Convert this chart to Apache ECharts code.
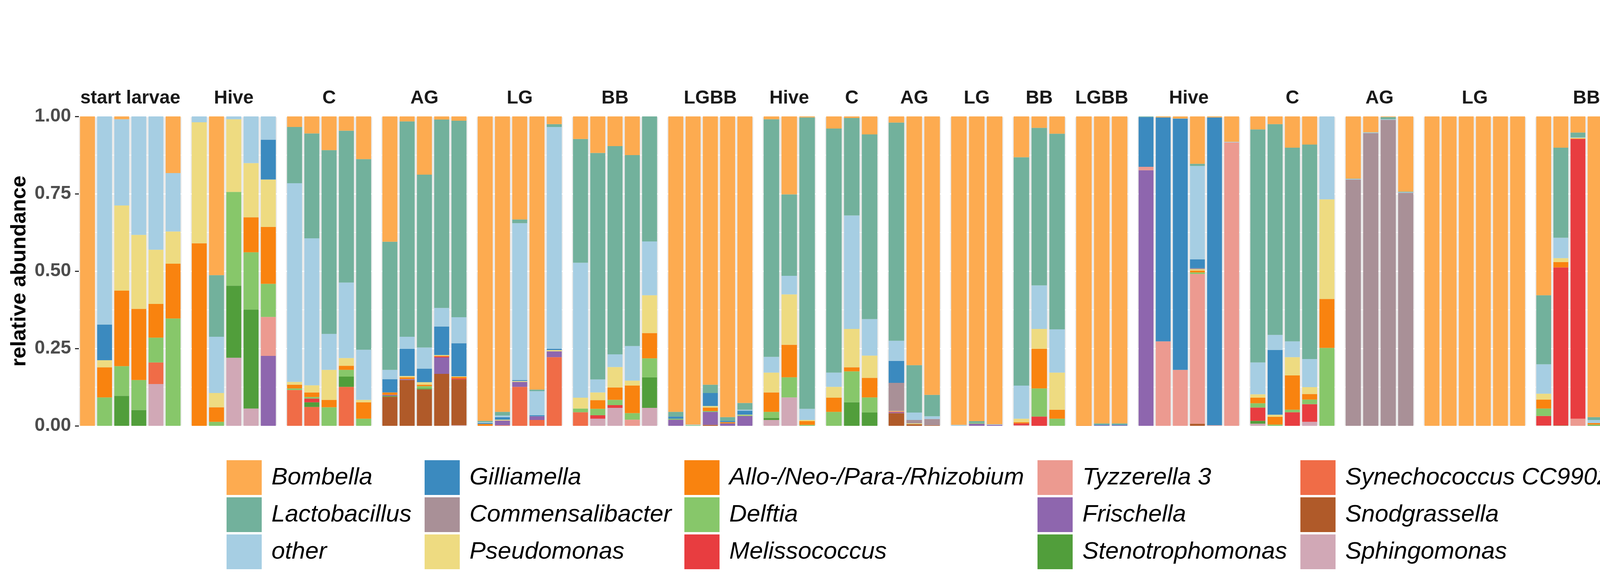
<!DOCTYPE html>
<html>
<head>
<meta charset="utf-8">
<title>relative abundance</title>
<script src="https://cdn.jsdelivr.net/npm/echarts@6/dist/echarts.min.js"></script>
<style>
  html, body { margin: 0; padding: 0; background: #ffffff; }
  #container { width: 4500px; height: 1500px; }
</style>
</head>
<body>
<div id="container"></div>
<script>
// facet strips, left to right
var facets = ['start larvae', 'Hive', 'C', 'AG', 'LG', 'BB', 'LGBB',
              'Hive', 'C', 'AG', 'LG', 'BB', 'LGBB',
              'Hive', 'C', 'AG', 'LG', 'BB', 'LGBB'];

// legend order (top of the stack first)
var genera = ['Bombella', 'Lactobacillus', 'other',
              'Gilliamella', 'Commensalibacter', 'Pseudomonas',
              'Allo-/Neo-/Para-/Rhizobium', 'Delftia', 'Melissococcus',
              'Tyzzerella 3', 'Frischella', 'Stenotrophomonas',
              'Synechococcus CC9902', 'Snodgrassella', 'Sphingomonas'];

// relative abundance per sample, one inner array per facet
var bombella = [
  [1, 0, 0.009, 0, 0, 0.183],
  [0, 0.513, 0, 0, 0],
  [0.034, 0.055, 0.109, 0.046, 0.138],
  [0.405, 0.016, 0.188, 0.010, 0.014],
  [0.984, 0.955, 0.333, 0.883, 0.025],
  [0.073, 0.118, 0.096, 0.125, 0],
  [0.955, 0.996, 0.867, 0.972, 0.926],
  [0.009, 0.252, 0.003],
  [0.039, 0.005, 0.058],
  [0.020, 0.804, 0.900],
  [0.997, 0.985, 0.995],
  [0.132, 0.037, 0.056],
  [0.998, 0.992, 0.992],
  [0, 0.003, 0.007, 0.153, 0.003, 0.082],
  [0.042, 0.025, 0.101, 0.091, 0],
  [0.201, 0.051, 0.002, 0.243],
  [1, 1, 1, 1, 1, 1],
  [0.578, 0.101, 0.052, 0.972, 0.944, 0.013],
  [1, 0.964, 1, 1, 0.998, 1]
];
var lactobacillus = [
  [0, 0, 0, 0, 0, 0],
  [0, 0.199, 0, 0, 0],
  [0.182, 0.339, 0.594, 0.491, 0.616],
  [0.414, 0.696, 0.559, 0.609, 0.635],
  [0.004, 0.012, 0.012, 0.005, 0.009],
  [0.400, 0.732, 0.673, 0.617, 0.404],
  [0.015, 0, 0.027, 0.012, 0.022],
  [0.768, 0.263, 0.942],
  [0.789, 0.315, 0.597],
  [0.705, 0.153, 0.069],
  [0, 0.006, 0],
  [0.738, 0.509, 0.632],
  [0, 0.004, 0.004],
  [0.002, 0, 0, 0.007, 0, 0],
  [0.753, 0.681, 0.626, 0.693, 0],
  [0.001, 0.001, 0.007, 0.002],
  [0, 0, 0, 0, 0, 0],
  [0.223, 0.291, 0.016, 0.009, 0.043, 0.701],
  [0, 0, 0, 0, 0.002, 0]
];
var other = [
  [0, 0.673, 0.279, 0.383, 0.431, 0.189],
  [0.019, 0.182, 0.009, 0.151, 0.075],
  [0.642, 0.475, 0.116, 0.244, 0.162],
  [0.030, 0.039, 0.068, 0.060, 0.084],
  [0.003, 0.005, 0.507, 0.078, 0.717],
  [0.436, 0.042, 0.041, 0.112, 0.174],
  [0, 0.002, 0, 0, 0.003],
  [0.051, 0.060, 0.036],
  [0.046, 0.367, 0.118],
  [0.065, 0.024, 0.009],
  [0.003, 0, 0.002],
  [0.107, 0.141, 0.140],
  [0, 0, 0],
  [0, 0, 0, 0.302, 0, 0.002],
  [0.103, 0.049, 0.051, 0.091, 0.268],
  [0.002, 0.002, 0.002, 0.002],
  [0, 0, 0, 0, 0, 0],
  [0.095, 0.066, 0.001, 0.010, 0.004, 0.108],
  [0, 0, 0, 0, 0, 0]
];
var gilliamella = [
  [0, 0.115, 0, 0, 0, 0],
  [0, 0, 0, 0, 0.129],
  [0, 0, 0, 0, 0],
  [0.043, 0.088, 0.044, 0.092, 0.107],
  [0.003, 0.008, 0.003, 0.003, 0.004],
  [0, 0, 0, 0, 0],
  [0.007, 0, 0.042, 0.004, 0.013],
  [0, 0, 0],
  [0, 0, 0],
  [0.071, 0, 0],
  [0, 0, 0],
  [0, 0, 0],
  [0, 0.002, 0.002],
  [0.161, 0.724, 0.812, 0.029, 0.995, 0],
  [0, 0.209, 0, 0, 0],
  [0, 0, 0, 0],
  [0, 0, 0, 0, 0, 0],
  [0, 0, 0, 0, 0, 0.002],
  [0, 0.002, 0, 0, 0, 0]
];
var commensalibacter = [
  [0, 0, 0, 0, 0, 0],
  [0, 0, 0, 0, 0],
  [0, 0, 0, 0, 0],
  [0, 0, 0, 0, 0],
  [0, 0, 0, 0, 0],
  [0, 0, 0, 0, 0],
  [0, 0, 0, 0, 0],
  [0, 0, 0],
  [0, 0, 0],
  [0.091, 0.011, 0.020],
  [0, 0, 0],
  [0, 0, 0],
  [0, 0, 0],
  [0, 0, 0, 0.003, 0, 0],
  [0, 0, 0, 0, 0],
  [0.796, 0.946, 0.989, 0.753],
  [0, 0, 0, 0, 0, 0],
  [0, 0, 0, 0, 0, 0],
  [0, 0, 0, 0, 0, 0]
];
var pseudomonas = [
  [0, 0.023, 0.275, 0.239, 0.175, 0.104],
  [0.391, 0.046, 0.235, 0.175, 0.153],
  [0.009, 0.023, 0.097, 0.025, 0.008],
  [0, 0.004, 0.008, 0.003, 0.002],
  [0, 0.003, 0.003, 0, 0.004],
  [0.035, 0.025, 0.066, 0.016, 0.122],
  [0, 0, 0.005, 0, 0.002],
  [0.064, 0.163, 0.004],
  [0.035, 0.124, 0.072],
  [0.002, 0.003, 0],
  [0, 0, 0],
  [0.011, 0.064, 0.120],
  [0, 0, 0],
  [0, 0, 0, 0.004, 0, 0],
  [0.011, 0.007, 0.059, 0.022, 0.322],
  [0, 0, 0, 0],
  [0, 0, 0, 0, 0, 0],
  [0.019, 0.013, 0.002, 0, 0.002, 0.052],
  [0, 0, 0, 0, 0, 0]
];
var rhizobium = [
  [0, 0.097, 0.244, 0.230, 0.109, 0.177],
  [0.590, 0.047, 0, 0.113, 0.184],
  [0.012, 0.015, 0.024, 0.013, 0.053],
  [0.008, 0.006, 0.005, 0.002, 0.005],
  [0.006, 0, 0, 0, 0],
  [0, 0.028, 0.040, 0.089, 0.082],
  [0, 0, 0.011, 0.004, 0],
  [0.063, 0.105, 0.012],
  [0.046, 0.013, 0.063],
  [0, 0, 0],
  [0, 0, 0],
  [0.004, 0.128, 0.029],
  [0.002, 0, 0],
  [0, 0, 0, 0.006, 0, 0],
  [0.018, 0.025, 0.111, 0.018, 0.158],
  [0, 0, 0, 0],
  [0, 0, 0, 0, 0, 0],
  [0.029, 0.017, 0.002, 0.005, 0.002, 0.048],
  [0, 0, 0, 0, 0, 0]
];
var delftia = [
  [0, 0.092, 0.096, 0.097, 0.080, 0.347],
  [0, 0.013, 0.303, 0.185, 0.107],
  [0.005, 0.005, 0.060, 0.022, 0.023],
  [0, 0, 0.007, 0, 0],
  [0, 0, 0, 0, 0],
  [0.012, 0.021, 0.017, 0.021, 0.061],
  [0.003, 0.002, 0.003, 0, 0.002],
  [0.019, 0.065, 0.003],
  [0.045, 0.100, 0.049],
  [0, 0, 0],
  [0, 0.002, 0],
  [0, 0.091, 0.023],
  [0, 0, 0],
  [0, 0, 0, 0.005, 0, 0],
  [0.014, 0.004, 0.008, 0.015, 0.252],
  [0, 0, 0, 0],
  [0, 0, 0, 0, 0, 0],
  [0.024, 0, 0, 0.002, 0, 0.006],
  [0, 0, 0, 0, 0, 0]
];
var melissococcus = [
  [0, 0, 0, 0, 0, 0],
  [0, 0, 0, 0, 0],
  [0, 0.012, 0, 0, 0],
  [0, 0, 0, 0.003, 0.003],
  [0, 0, 0, 0, 0],
  [0, 0.011, 0.009, 0, 0],
  [0, 0, 0, 0, 0],
  [0, 0, 0],
  [0, 0, 0],
  [0.002, 0, 0],
  [0, 0, 0],
  [0.006, 0.030, 0],
  [0, 0, 0],
  [0, 0, 0, 0, 0, 0],
  [0.043, 0, 0.044, 0.057, 0],
  [0, 0, 0, 0],
  [0, 0, 0, 0, 0, 0],
  [0.031, 0.511, 0.904, 0, 0.005, 0.050],
  [0, 0.034, 0, 0, 0, 0]
];
var tyzzerella = [
  [0, 0, 0, 0, 0, 0],
  [0, 0, 0, 0, 0.126],
  [0, 0, 0, 0, 0],
  [0, 0, 0, 0, 0],
  [0, 0, 0, 0, 0],
  [0, 0, 0, 0.020, 0],
  [0, 0, 0, 0, 0],
  [0, 0, 0],
  [0, 0, 0],
  [0, 0, 0],
  [0, 0, 0],
  [0, 0, 0],
  [0, 0, 0],
  [0.011, 0.273, 0.181, 0.484, 0.002, 0.916],
  [0, 0, 0, 0, 0],
  [0, 0, 0, 0],
  [0, 0, 0, 0, 0, 0],
  [0, 0, 0.023, 0, 0, 0],
  [0, 0, 0, 0, 0, 0]
];
var frischella = [
  [0, 0, 0, 0, 0, 0],
  [0, 0, 0, 0, 0.226],
  [0, 0, 0, 0, 0],
  [0.003, 0.003, 0, 0.053, 0],
  [0, 0.015, 0.016, 0.012, 0.019],
  [0, 0, 0, 0, 0],
  [0.020, 0, 0.042, 0.008, 0.032],
  [0, 0, 0],
  [0, 0, 0],
  [0.003, 0, 0],
  [0, 0.007, 0.003],
  [0, 0, 0],
  [0, 0.002, 0.002],
  [0.826, 0, 0, 0, 0, 0],
  [0, 0, 0, 0, 0],
  [0, 0, 0, 0],
  [0, 0, 0, 0, 0, 0],
  [0, 0, 0, 0, 0, 0],
  [0, 0, 0, 0, 0, 0]
];
var stenotrophomonas = [
  [0, 0, 0.097, 0.051, 0, 0],
  [0, 0, 0.233, 0.320, 0],
  [0, 0.015, 0, 0.033, 0],
  [0.003, 0, 0.003, 0, 0],
  [0, 0, 0, 0, 0],
  [0, 0, 0, 0, 0.099],
  [0, 0, 0, 0, 0],
  [0.007, 0, 0],
  [0, 0.076, 0.043],
  [0, 0, 0],
  [0, 0, 0],
  [0, 0, 0],
  [0, 0, 0],
  [0, 0, 0, 0, 0, 0],
  [0.009, 0, 0, 0, 0],
  [0, 0, 0, 0],
  [0, 0, 0, 0, 0, 0],
  [0, 0.001, 0, 0.002, 0, 0.015],
  [0, 0, 0, 0, 0, 0]
];
var synechococcus = [
  [0, 0, 0, 0, 0.070, 0],
  [0, 0, 0, 0, 0],
  [0.116, 0.061, 0, 0.126, 0],
  [0, 0, 0, 0, 0],
  [0, 0.002, 0.126, 0.019, 0.222],
  [0.044, 0, 0, 0, 0],
  [0, 0, 0, 0, 0],
  [0, 0, 0],
  [0, 0, 0],
  [0, 0, 0],
  [0, 0, 0],
  [0, 0, 0],
  [0, 0, 0],
  [0, 0, 0, 0, 0, 0],
  [0, 0, 0, 0, 0],
  [0, 0, 0, 0],
  [0, 0, 0, 0, 0, 0],
  [0, 0, 0, 0, 0, 0],
  [0, 0, 0, 0, 0, 0]
];
var snodgrassella = [
  [0, 0, 0, 0, 0, 0],
  [0, 0, 0, 0, 0],
  [0, 0, 0, 0, 0],
  [0.094, 0.148, 0.118, 0.168, 0.148],
  [0, 0, 0, 0, 0],
  [0, 0, 0, 0, 0],
  [0, 0, 0.003, 0, 0],
  [0, 0, 0],
  [0, 0, 0],
  [0.041, 0.005, 0.002],
  [0, 0, 0],
  [0, 0, 0],
  [0, 0, 0],
  [0, 0, 0, 0.007, 0, 0],
  [0, 0, 0, 0, 0],
  [0, 0, 0, 0],
  [0, 0, 0, 0, 0, 0],
  [0, 0, 0, 0, 0, 0],
  [0, 0, 0, 0, 0, 0]
];
var sphingomonas = [
  [0, 0, 0, 0, 0.135, 0],
  [0, 0, 0.220, 0.056, 0],
  [0, 0, 0, 0, 0],
  [0, 0, 0, 0, 0.002],
  [0, 0, 0, 0, 0],
  [0, 0.023, 0.058, 0, 0.058],
  [0, 0, 0, 0, 0],
  [0.019, 0.092, 0],
  [0, 0, 0],
  [0, 0, 0],
  [0, 0, 0],
  [0.002, 0, 0],
  [0, 0, 0],
  [0, 0, 0, 0, 0, 0],
  [0.007, 0, 0, 0.013, 0],
  [0, 0, 0, 0],
  [0, 0, 0, 0, 0, 0],
  [0.001, 0, 0, 0, 0, 0.005],
  [0, 0, 0, 0, 0, 0]
];

var values = [bombella, lactobacillus, other, gilliamella, commensalibacter, pseudomonas,
              rhizobium, delftia, melissococcus, tyzzerella, frischella, stenotrophomonas,
              synechococcus, snodgrassella, sphingomonas];

var palette = ['#FDAB50', '#72B19C', '#A6CEE3', '#3B8ABF', '#A99097', '#EEDB81',
               '#F9830F', '#87C76A', '#E83D40', '#EC9A90', '#8E66AE', '#519E3B',
               '#F06C47', '#B05A29', '#D1A8B6'];

var font = 'Liberation Sans';
var dom = document.getElementById('container');
var myChart = echarts.init(dom);

var unit = 42, pad = 5.5, gap = 23;
var left0 = 202, top0 = 298, plotH = 792;

var grids = [], xAxes = [], yAxes = [], titles = [], series = [];
var x = left0;

facets.forEach(function (name, f) {
    var n = bombella[f].length;
    var w = n * unit + 2 * pad;
    grids.push({
        left: x, top: top0, width: w, height: plotH,
        show: true, backgroundColor: '#EBEBEB', borderWidth: 0
    });
    var cats = [];
    for (var i = 0; i < n; i++) { cats.push(name + ' ' + (i + 1)); }
    xAxes.push({
        type: 'category', gridIndex: f, data: cats,
        axisLine: { show: false }, axisTick: { show: false },
        axisLabel: { show: false }, splitLine: { show: false }
    });
    var first = (f === 0);
    yAxes.push({
        type: 'value', gridIndex: f, min: 0, max: 1, interval: 0.25,
        name: first ? 'relative abundance' : '',
        nameLocation: 'middle', nameRotate: 90, nameGap: 125,
        nameTextStyle: { fontSize: 54, fontWeight: 'bold', color: '#000000', fontFamily: font },
        axisLine: { show: false },
        axisTick: { show: first, length: 10, lineStyle: { color: '#333333', width: 3 } },
        axisLabel: {
            show: first, margin: 20, fontSize: 48, fontWeight: 'bold',
            color: '#4D4D4D', fontFamily: font,
            formatter: function (v) { return v.toFixed(2); }
        },
        splitLine: { show: true, lineStyle: { color: '#FFFFFF', width: 3 } },
        minorTick: { show: false, splitNumber: 2 },
        minorSplitLine: { show: true, lineStyle: { color: '#FFFFFF', width: 1.5 } }
    });
    titles.push({
        text: name, left: x + w / 2, top: 228, textAlign: 'center', padding: 0,
        textStyle: { fontSize: 48, fontWeight: 'bold', color: '#1A1A1A', fontFamily: font }
    });
    // bottom of the stack is the last legend entry
    for (var g = genera.length - 1; g >= 0; g--) {
        series.push({
            type: 'bar', name: genera[g], xAxisIndex: f, yAxisIndex: f,
            stack: 'facet' + f, data: values[g][f],
            barCategoryGap: '13%',
            itemStyle: { color: palette[g] },
            emphasis: { disabled: true }
        });
    }
    x += w + gap;
});

var legendLeft = [575, 1082, 1747, 2651, 3324];
var legends = legendLeft.map(function (lx, c) {
    return {
        orient: 'vertical', left: lx, top: 1173,
        data: genera.slice(c * 3, c * 3 + 3),
        icon: 'rect', itemWidth: 90, itemHeight: 89, itemGap: 6,
        selectedMode: false,
        textStyle: { fontSize: 62, fontStyle: 'italic', color: '#000000', fontFamily: font, padding: [0, 0, 0, 20] }
    };
});

option = {
    backgroundColor: '#FFFFFF',
    animation: false,
    color: palette,
    title: titles,
    legend: legends,
    grid: grids,
    xAxis: xAxes,
    yAxis: yAxes,
    series: series
};
if (option && typeof option === 'object') {
    myChart.setOption(option, true);
}
</script>
</body>
</html>
